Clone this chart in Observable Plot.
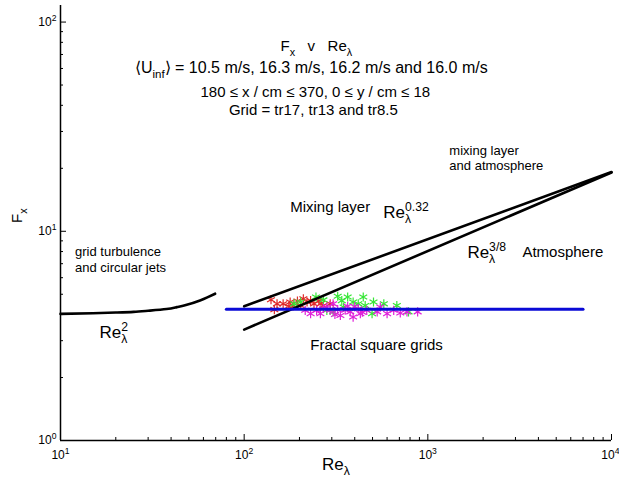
<!DOCTYPE html>
<html><head><meta charset="utf-8">
<script src="https://cdn.jsdelivr.net/npm/d3@7"></script>
<script src="https://cdn.jsdelivr.net/npm/@observablehq/plot@0.6"></script>
<style>
html,body{margin:0;padding:0;background:#fff;}
#chart svg{display:block;}
</style></head><body><div id="chart"></div>
<script>
// ---- axis ticks ----
const xMajorTicks = [10, 100, 1000, 10000];
const xTickLabels = ["10^{1}", "10^{2}", "10^{3}", "10^{4}"];
const xMinorTicks = [20,30,40,50,60,70,80,90,200,300,400,500,600,700,800,900,2000,3000,4000,5000,6000,7000,8000,9000];
const yMajorTicks = [1, 10, 100];
const yTickLabels = ["10^{0}", "10^{1}", "10^{2}"];
const yMinorTicks = [2,3,4,5,6,7,8,9,20,30,40,50,60,70,80,90];

// ---- curves [Re_lambda, F_x] ----
const gridJetCurve = [[10,4.03],[15,4.06],[20,4.09],[25,4.12],[30,4.17],[37.8,4.25],[43,4.34],[48.7,4.45],[57.5,4.67],[63,4.83],[69.5,5.03]];
const mixingLayerLine = [[100,4.38],[10000,19.2]];
const atmosphereLine = [[100,3.39],[10000,19.1]];
const fractalLine = [[80,4.24],[7000,4.24]];

// ---- measured points [Re_lambda, F_x] ----
const redPoints = [[140,4.71],[151,4.50],[163,4.50],[175,4.38],[178,4.59],[195,4.64],[203,4.42],[210,4.76],[220,4.59],[240,4.50],[255,4.64],[270,4.42],[146,4.22],[294,4.50],[185,4.40],[230,4.66],[262,4.52]];
const greenPoints = [[187,4.50],[203,4.59],[246,4.85],[282,4.19],[323,4.89],[366,4.85],[392,4.59],[418,4.50],[445,4.85],[456,4.42],[506,4.59],[497,4.04],[576,4.50],[678,4.42],[785,4.12],[348,4.34],[305,4.12],[270,4.70],[340,4.66]];
const magentaPoints = [[215,4.19],[230,4.04],[248,4.19],[260,4.04],[282,4.34],[294,4.19],[305,4.50],[323,4.22],[334,3.96],[366,4.38],[378,4.12],[392,3.89],[418,4.26],[429,4.04],[465,4.19],[530,4.12],[551,4.34],[600,4.04],[652,4.19],[708,4.07],[770,4.12],[880,4.12],[270,4.28],[312,4.00],[355,4.20],[400,4.36],[440,4.10]];

// ---- text annotations [text, Re_lambda, F_x] ----
const titleHead = [["F_{x}\u00a0\u00a0\u00a0v\u00a0\u00a0\u00a0Re_{λ}", 247, 76.4]];
const titleVelocity = [["⟨U_{inf}⟩ = 10.5 m/s, 16.3 m/s, 16.2 m/s and 16.0 m/s", 232, 60.7]];
const titleLines = [
  ["180 ≤ x / cm ≤ 370, 0 ≤ y / cm ≤ 18", 244, 46.1],
  ["Grid = tr17, tr13 and tr8.5", 238, 37.8]
];
const regimeLabels = [
  ["Mixing layer", 178, 13.0],
  ["Atmosphere", 3273, 7.92],
  ["Fractal square grids", 229, 2.85]
];
const smallLabels = [
  ["mixing layer", 1310, 24.3],
  ["and atmosphere", 1310, 20.6],
  ["grid turbulence", 12.0, 8.0],
  ["and circular jets", 12.0, 6.71]
];
const powerLabels = [
  ["Re_{λ}^{0.32}", 572, 12.3],
  ["Re_{λ}^{3/8}", 1642, 7.92],
  ["Re_{λ}^{2}", 16.3, 3.29]
];
const yAxisLabel = "F_{x}";
const xAxisLabel = "Re_{λ}";

const asterisk = (pts, color) => Plot.dot(pts, {x: d => d[0], y: d => d[1], symbol: "asterisk", r: 4.3, stroke: color, strokeWidth: 1.2});
const xLabel = d => xTickLabels[xMajorTicks.indexOf(d)];

const plot = Plot.plot({
  width: 619, height: 485,
  marginLeft: 60, marginRight: 8, marginTop: 5, marginBottom: 45,
  x: {type: "log", domain: [10, 10000]},
  y: {type: "log", domain: [1, 120]},
  style: {fontFamily: "Arial, 'Liberation Sans', sans-serif", fontSize: "12px", background: "white", color: "black"},
  marks: [
    asterisk(redPoints, "#e02a2a"),
    asterisk(greenPoints, "#36e636"),
    asterisk(magentaPoints, "#e021d9"),
    Plot.line(gridJetCurve, {x: d => d[0], y: d => d[1], curve: "natural", stroke: "black", strokeWidth: 2.6}),
    Plot.line(mixingLayerLine, {x: d => d[0], y: d => d[1], stroke: "black", strokeWidth: 2.6}),
    Plot.line(atmosphereLine, {x: d => d[0], y: d => d[1], stroke: "black", strokeWidth: 2.6}),
    Plot.line(fractalLine, {x: d => d[0], y: d => d[1], stroke: "#0a0ad6", strokeWidth: 3}),
    // axes lines
    Plot.ruleX([10], {stroke: "black", strokeWidth: 1.5}),
    Plot.ruleY([1], {stroke: "black", strokeWidth: 1.5}),
    // ticks (inward)
    Plot.ruleX(xMajorTicks, {stroke: "black", insetTop: 429}),
    Plot.ruleX(xMinorTicks, {stroke: "black", insetTop: 432}),
    Plot.ruleY(yMajorTicks, {stroke: "black", insetRight: 545}),
    Plot.ruleY(yMinorTicks, {stroke: "black", insetRight: 548}),
    Plot.axisX({ticks: xMajorTicks.slice(0, 3), tickSize: 0, tickPadding: 10, fontSize: 12, label: null, tickFormat: xLabel}),
    Plot.axisX({ticks: xMajorTicks.slice(3), tickSize: 0, tickPadding: 10, fontSize: 12, label: null, tickFormat: xLabel, textAnchor: "end", dx: 8}),
    Plot.axisY({ticks: yMajorTicks, tickSize: 0, tickPadding: 4, fontSize: 12, label: null,
      tickFormat: d => yTickLabels[yMajorTicks.indexOf(d)]}),
    // axis titles
    Plot.text([yAxisLabel], {frameAnchor: "left", dx: -43, rotate: -90, fontSize: 15, text: d => d}),
    Plot.text([xAxisLabel], {frameAnchor: "bottom", dy: 29, fontSize: 17, text: d => d}),
    // annotations
    Plot.text(titleHead, {x: d => d[1], y: d => d[2], text: d => d[0], fontSize: 15, textAnchor: "middle"}),
    Plot.text(titleVelocity, {x: d => d[1], y: d => d[2], text: d => d[0], fontSize: 16, textAnchor: "middle"}),
    Plot.text(titleLines, {x: d => d[1], y: d => d[2], text: d => d[0], fontSize: 15, textAnchor: "middle"}),
    Plot.text(regimeLabels, {x: d => d[1], y: d => d[2], text: d => d[0], fontSize: 15, textAnchor: "start"}),
    Plot.text(smallLabels, {x: d => d[1], y: d => d[2], text: d => d[0], fontSize: 13, textAnchor: "start"}),
    Plot.text(powerLabels, {x: d => d[1], y: d => d[2], text: d => d[0], fontSize: 17, textAnchor: "start"})
  ]
});
document.getElementById("chart").appendChild(plot);

// convert _{..} and ^{..} markup into sub/superscript tspans
function richText(svg) {
  const NS = "http://www.w3.org/2000/svg";
  for (const t of svg.querySelectorAll("text")) {
    if (t.querySelector("tspan")) continue;
    const s = t.textContent;
    if (!/[_^]\{/.test(s)) continue;
    const fs = parseFloat(getComputedStyle(t).fontSize) || 12;
    t.textContent = "";
    let shift = 0, lastSub = null;
    for (const m of s.matchAll(/([_^])\{([^}]*)\}|([^_^]+)/g)) {
      const ts = document.createElementNS(NS, "tspan");
      let target;
      if (m[3] !== undefined) { ts.textContent = m[3]; target = 0; }
      else {
        ts.textContent = m[2];
        ts.setAttribute("font-size", (fs * 0.72).toFixed(1));
        target = m[1] === "_" ? fs * 0.32 : -fs * 0.42;
      }
      const dy = target - shift;
      if (dy) ts.setAttribute("dy", dy.toFixed(2));
      shift = target;
      t.appendChild(ts);
      if (m[1] === "^" && lastSub) ts.setAttribute("dx", (-lastSub.getComputedTextLength()).toFixed(2));
      lastSub = m[1] === "_" ? ts : null;
    }
  }
}
richText(plot);
</script></body></html>
